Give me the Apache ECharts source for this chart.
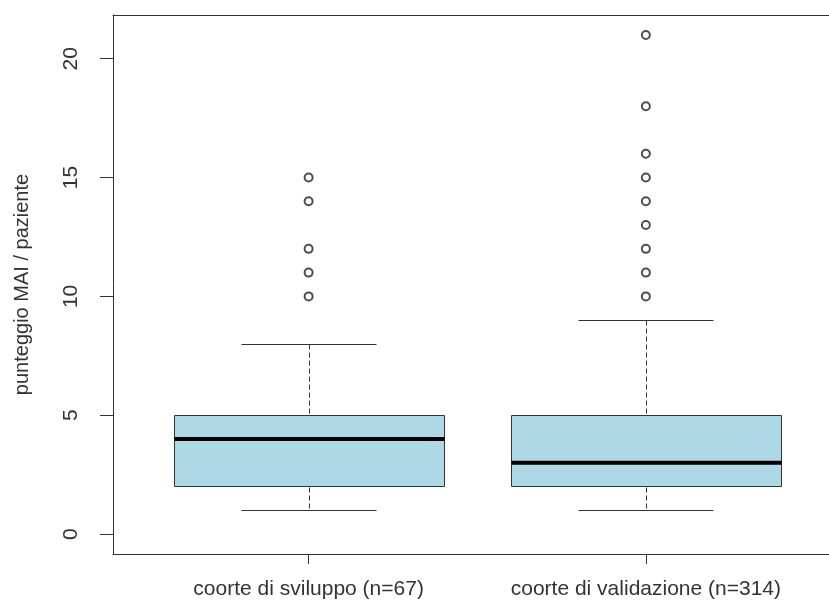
<!DOCTYPE html>
<html>

<head>
    <meta charset="utf-8">
    <title>punteggio MAI</title>
    <script src="https://cdn.jsdelivr.net/npm/echarts@6/dist/echarts.min.js"></script>
</head>

<body style="margin:0;">
    <div id="chart_box" style="width: 829px; height: 607px;"></div>

    <script>
        // gruppi
        var categories = ['coorte di sviluppo (n=67)', 'coorte di validazione (n=314)'];
        // [min baffo, Q1, mediana, Q3, max baffo]
        var boxStats = [
            [1, 2, 4, 5, 8],
            [1, 2, 3, 5, 9]
        ];
        var outliersSviluppo = [10, 11, 12, 14, 15];
        var outliersValidazione = [10, 11, 12, 13, 14, 15, 16, 18, 21];
        var yTicks = [0, 5, 10, 15, 20];

        var boxData = boxStats.map(function (s, i) {
            return [i + 1].concat(s);
        });
        var outlierData = [];
        outliersSviluppo.forEach(function (v) { outlierData.push([1, v]); });
        outliersValidazione.forEach(function (v) { outlierData.push([2, v]); });

        var lineColor = '#333';
        var font = 'Liberation Sans, Arial, sans-serif';

        var chart = echarts.init(document.getElementById('chart_box'));

        function renderBox(params, api) {
            var x = api.value(0);
            var lo = api.coord([x, api.value(1)]);
            var q1 = api.coord([x, api.value(2)]);
            var med = api.coord([x, api.value(3)]);
            var q3 = api.coord([x, api.value(4)]);
            var hi = api.coord([x, api.value(5)]);
            var left = api.coord([x - 0.4, 0])[0];
            var right = api.coord([x + 0.4, 0])[0];
            var capL = api.coord([x - 0.2, 0])[0];
            var capR = api.coord([x + 0.2, 0])[0];
            var r = function (v) { return Math.round(v) + 0.5; };
            var cx = r(lo[0]);
            var thin = { stroke: lineColor, lineWidth: 1 };
            var dash = { stroke: lineColor, lineWidth: 1, lineDash: [5, 3] };
            return {
                type: 'group',
                children: [
                    { type: 'line', shape: { x1: cx, y1: r(hi[1]), x2: cx, y2: r(q3[1]) }, style: dash },
                    { type: 'line', shape: { x1: cx, y1: r(q1[1]), x2: cx, y2: r(lo[1]) }, style: dash },
                    { type: 'line', shape: { x1: r(capL), y1: r(hi[1]), x2: r(capR), y2: r(hi[1]) }, style: thin },
                    { type: 'line', shape: { x1: r(capL), y1: r(lo[1]), x2: r(capR), y2: r(lo[1]) }, style: thin },
                    {
                        type: 'rect',
                        shape: { x: r(left), y: r(q3[1]), width: Math.round(right - left), height: Math.round(q1[1] - q3[1]) },
                        style: { fill: '#ADD8E6', stroke: lineColor, lineWidth: 1 }
                    },
                    { type: 'line', shape: { x1: r(left), y1: med[1], x2: r(right), y2: med[1] }, style: { stroke: '#000', lineWidth: 4 } }
                ]
            };
        }

        var option = {
            animation: false,
            backgroundColor: '#fff',
            grid: { left: 113, right: 0, top: 15, bottom: 53 },
            xAxis: [
                {
                    type: 'value',
                    min: 0.42,
                    max: 2.543,
                    axisLine: { show: true, onZero: false, lineStyle: { color: lineColor, width: 1 } },
                    axisTick: { show: true, length: 10, customValues: [1, 2], lineStyle: { color: lineColor } },
                    axisLabel: {
                        customValues: [1, 2],
                        margin: 25,
                        fontFamily: font,
                        fontSize: 21,
                        color: '#333',
                        formatter: function (v) { return categories[Math.round(v) - 1] || ''; }
                    },
                    splitLine: { show: false }
                },
                {
                    type: 'value',
                    position: 'top',
                    min: 0.42,
                    max: 2.543,
                    axisLine: { show: true, onZero: false, lineStyle: { color: lineColor, width: 1 } },
                    axisTick: { show: false },
                    axisLabel: { show: false },
                    splitLine: { show: false }
                }
            ],
            yAxis: {
                type: 'value',
                min: -0.84,
                max: 21.84,
                name: 'punteggio MAI / paziente',
                nameLocation: 'middle',
                nameRotate: 90,
                nameGap: 81,
                nameTextStyle: { fontFamily: font, fontSize: 20, color: '#333' },
                axisLine: { show: true, onZero: false, lineStyle: { color: lineColor, width: 1 } },
                axisTick: { show: true, length: 13, customValues: yTicks, lineStyle: { color: lineColor } },
                axisLabel: {
                    customValues: yTicks,
                    rotate: 90,
                    margin: 31,
                    fontFamily: font,
                    fontSize: 21,
                    color: '#333'
                },
                splitLine: { show: false }
            },
            series: [
                {
                    type: 'custom',
                    renderItem: renderBox,
                    encode: { x: 0, y: [1, 2, 3, 4, 5] },
                    data: boxData,
                    z: 2
                },
                {
                    type: 'scatter',
                    data: outlierData,
                    symbol: 'emptyCircle',
                    symbolSize: 8,
                    itemStyle: { color: '#222', borderColor: '#222', borderWidth: 1 },
                    z: 3
                }
            ]
        };
        chart.setOption(option);
    </script>
</body>

</html>
